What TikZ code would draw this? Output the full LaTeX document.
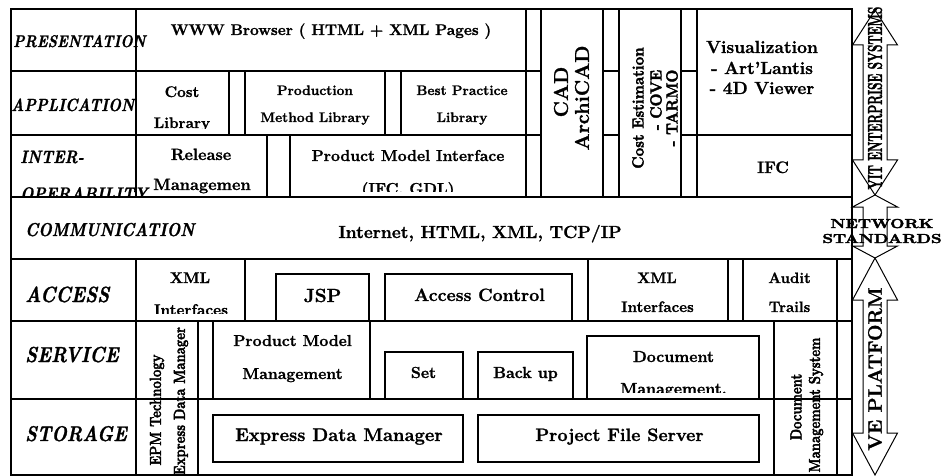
\documentclass[tikz,border=0pt]{standalone}
\usepackage{fontspec}
\usepackage{graphicx}
% Latin Modern with a heavier bold
\setmainfont{lmroman12-regular.otf}[
  BoldFont=lmroman12-bold.otf,
  ItalicFont=lmroman12-italic.otf,
  BoldItalicFont=lmroman10-bolditalic.otf,
  BoldFeatures={FakeBold=1.3},
  BoldItalicFeatures={FakeBold=1.3}]
% extra-heavy face for the narrow, squeezed captions
\newfontfamily\heavyfont{lmroman12-bold.otf}[FakeBold=2.6]
% font size helper and horizontal squeeze for condensed lettering
\newcommand\archfs[1]{\fontsize{#1}{#1}\selectfont}
\newcommand\hsq[2]{\scalebox{#1}[1]{#2}}
\begin{document}
\begin{tikzpicture}[x=1pt,y=-1pt,
  gridline/.style={line width=1.6pt},
  boxline/.style={line width=1.2pt},
  arrowshape/.style={line width=1pt, fill=white},
  txt/.style={inner sep=0pt, anchor=base, font=\bfseries\archfs{#1}},
  txt/.default=16,
  heavy/.style={inner sep=0pt, anchor=base, font=\heavyfont\archfs{#1}},
  lab/.style={inner sep=0pt, anchor=base west, font=\bfseries\itshape\archfs{#1}},
  vt/.style={inner sep=0pt, rotate=90, font=\bfseries\archfs{#1}},
  vth/.style={inner sep=0pt, rotate=90, font=\heavyfont\archfs{#1}},
]
\useasboundingbox (0,0) rectangle (948,476);

% ---------- side arrows ----------
\draw[arrowshape] (875,10) -- (897.5,45) -- (887,45) -- (887,160) -- (897.5,160) -- (875,195)
  -- (852.5,160) -- (863,160) -- (863,45) -- (852.5,45) -- cycle;
\draw[arrowshape] (875,195) -- (897.5,207) -- (887,207) -- (887,246) -- (897.5,246) -- (875,258)
  -- (852.5,246) -- (863,246) -- (863,207) -- (852.5,207) -- cycle;
\draw[arrowshape] (875,258) -- (897.5,300) -- (887,300) -- (887,433) -- (897.5,433) -- (875,475)
  -- (852.5,433) -- (863,433) -- (863,300) -- (852.5,300) -- cycle;

% ---------- layer grid ----------
\draw[gridline] (11,9) rectangle (852,475);
\draw[gridline] (11,71) -- (541,71) (603,71) -- (619,71) (681,71) -- (697,71);
\draw[gridline] (11,135) -- (541,135) (603,135) -- (619,135) (681,135) -- (852,135);
\draw[gridline] (11,197) -- (852,197);
\draw[gridline] (11,259) -- (852,259);
\draw[gridline] (11,321) -- (852,321);
\draw[gridline] (11,399) -- (852,399);
\draw[gridline] (136,9) -- (136,197) (136,259) -- (136,475);
\foreach \x in {526,541,603,619,681,697} \draw[gridline] (\x,9) -- (\x,197);
\foreach \x in {229,245,385,401} \draw[gridline] (\x,71) -- (\x,135);
\foreach \x in {267,290} \draw[gridline] (\x,135) -- (\x,197);
\foreach \x in {245,588,728,743} \draw[gridline] (\x,259) -- (\x,321);
\draw[gridline] (837,259) -- (837,475);
\draw[gridline] (198,321) -- (198,475) (774,321) -- (774,475);
\draw[gridline] (213,321) -- (213,399) (370,321) -- (370,399);

% inner boxes
\draw[boxline] (276,274) rectangle (369,321);
\draw[boxline] (385,274) rectangle (572,321);
\draw[boxline] (385,352) rectangle (463,399);
\draw[boxline] (478,352) rectangle (573,399);
\draw[boxline] (587,336) rectangle (759,399);
\draw[boxline] (213,415) rectangle (463,462);
\draw[boxline] (478,415) rectangle (759,462);

% ---------- layer names ----------
\node[lab=16.9] (presentation) at (13,47) {\hsq{0.85}{PRESENTATION}};
\node[lab=17.6] (application) at (11,111) {\hsq{0.85}{APPLICATION}};
\node[lab=17.9] (inter) at (20,163) {\hsq{0.85}{INTER-}};
\begin{scope}
  \clip (0,135) rectangle (300,197);
  \node[lab=18.2] (operability) at (20,200) {\hsq{0.85}{OPERABILITY}};
\end{scope}
\node[lab=18.6] (communication) at (25,236) {\hsq{0.85}{COMMUNICATION}};
\node[lab=21.9] (access) at (25,302) {\hsq{0.85}{ACCESS}};
\node[lab=21.7] (service) at (25,362) {\hsq{0.85}{SERVICE}};
\node[lab=21.3] (storage) at (25,441) {\hsq{0.85}{STORAGE}};

% ---------- presentation / application / interoperability ----------
\node[txt=15.5] (www) at (331,35) {WWW Browser ( HTML + XML Pages )};

\node[txt=15.3] (cost) at (182,97) {Cost};
\begin{scope}
  \clip (136,71) rectangle (229,129);
  \node[txt=15.3] (costlib) at (182,128) {Library};
\end{scope}
\node[txt=13.8] (prod) at (315,95) {Production};
\node[txt=13.8] (prodlib) at (315,122) {Method Library};
\node[txt=13.8] (best) at (462,95) {Best Practice};
\node[txt=13.8] (bestlib) at (462,122) {Library};

\node[txt=16.4] (release) at (201,160) {Release};
\begin{scope}
  \clip (136,135) rectangle (267,193);
  \node[txt=16.4] (relman) at (202,190) {Managemen};
\end{scope}
\node[txt=15.8] (pmi) at (408,161) {Product Model Interface};
\begin{scope}
  \clip (290,135) rectangle (526,191);
  \node[txt=15.8] (ifcgdl) at (408,194) {(IFC, GDL)};
\end{scope}

% tall columns
\node[vt=20] (cad) at (561,92) {CAD};
\node[vt=20] (archicad) at (582,98) {ArchiCAD};
\node[vth=16] (costest) at (638,108) {\hsq{0.95}{Cost Estimation}};
\node[vth=16] (cove) at (656,100) {\hsq{0.95}{- COVE}};
\node[vth=16] (tarmo) at (672,108) {\hsq{0.95}{- TARMO}};

\node[txt=17.5] (vis) at (762,53) {Visualization};
\node[txt=17.5] (artl) at (762,74) {- Art'Lantis};
\node[txt=17.5] (viewer) at (762,94) {- 4D Viewer};
\node[txt=16.6] (ifc) at (773,173) {IFC};

% ---------- communication ----------
\node[txt=17.5] (internet) at (480,238) {Internet, HTML, XML, TCP/IP};

% ---------- access ----------
\node[txt=15.5] (xmla) at (190,283) {XML};
\begin{scope}
  \clip (136,259) rectangle (245,313);
  \node[txt=15.5] (xmlai) at (191,315) {Interfaces};
\end{scope}
\node[txt=19] (jsp) at (322.5,302) {JSP};
\node[txt=17.8] (accctl) at (479.5,301) {Access Control};
\node[txt=15.2] (xmlb) at (657,283) {XML};
\node[txt=15.2] (xmlbi) at (657.5,312) {Interfaces};
\node[txt=15] (audit) at (789.5,283) {Audit};
\node[txt=15] (trails) at (789.5,312) {Trails};

% ---------- service ----------
\node[vth=16] (epm) at (157,410) {\hsq{0.82}{EPM Technology}};
\node[vth=16] (edm) at (181,401) {\hsq{0.82}{Express Data Manager}};
\node[txt=15.8] (pmm) at (292.5,346) {Product Model};
\node[txt=15.8] (pmman) at (292.5,379) {Management};
\node[txt=16] (set) at (423.5,378) {Set};
\node[txt=16] (backup) at (525.5,378) {Back up};
\node[txt=16] (docm) at (673.5,362) {Document};
\begin{scope}
  \clip (587,336) rectangle (759,392);
  \node[txt=16] (docman) at (673.5,394) {Management.};
\end{scope}
\node[vth=16] (dms1) at (796,407) {\hsq{0.82}{Document}};
\node[vth=16] (dms2) at (816,405) {\hsq{0.82}{Management System}};

% ---------- storage ----------
\node[txt=18.4] (expdm) at (339,441) {Express Data Manager};
\node[txt=18] (pfs) at (619.5,441) {Project File Server};

% ---------- arrow captions ----------
\node[vth=20] (yit) at (875,98) {\hsq{0.59}{YIT ENTERPRISE SYSTEMS}};
\node[heavy=13] (network) at (882,228) {\hsq{1.3}{NETWORK}};
\node[heavy=13] (standards) at (882,243) {\hsq{1.3}{STANDARDS}};
\node[vt=19.5] (ve) at (875,369) {VE PLATFORM};
\end{tikzpicture}
\end{document}
